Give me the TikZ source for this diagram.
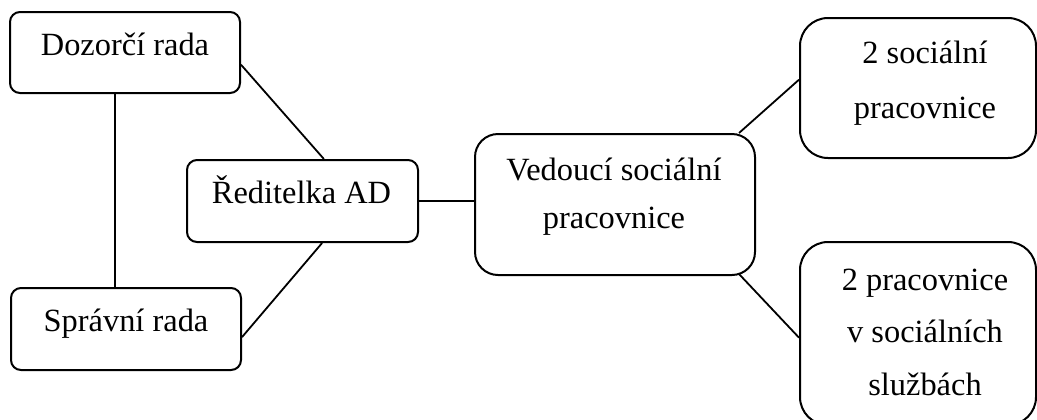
\documentclass[tikz,border=0pt]{standalone}
\usepackage{fontspec}
\setmainfont{Liberation Serif}
\usetikzlibrary{positioning}
\tikzstyle{orgbox} = [draw, line width=1pt, rounded corners=5pt, inner sep=0pt]
\tikzstyle{orgtext} = [font=\fontsize{16.2}{27.5}\selectfont, align=center, anchor=base, inner sep=0pt]
\tikzstyle{link} = [line width=0.9pt]

\begin{document}
\begin{tikzpicture}[x=0.5pt,y=-0.5pt]
\useasboundingbox (0,0) rectangle (1037,419);
\clip (0,0) rectangle (1037,419);
\fill[white] (0,0) rectangle (1037,419);

% boxes
\node[orgbox, minimum width=115pt, minimum height=40.5pt] (dozorci) at (125,52.5) {};
\node[orgbox, minimum width=115pt, minimum height=41pt] (spravni) at (126,329) {};
\node[orgbox, minimum width=115.5pt, minimum height=41pt] (reditelka) at (302.5,201) {};
\node[orgbox, rounded corners=11.5pt, minimum width=140pt, minimum height=70.5pt] (vedouci) at (615,204.5) {};
\node[orgbox, rounded corners=14pt, minimum width=118pt, minimum height=70pt] (socialni) at (918,88) {};
\node[orgbox, rounded corners=14pt, minimum width=118pt, minimum height=91.5pt] (sluzby) at (918,333.5) {};

% texts (base = last line)
\node[orgtext] (tdozorci) at (125,55) {Dozorčí rada};
\node[orgtext] (tspravni) at (126,331) {Správní rada};
\node[orgtext] (treditelka) at (301.5,203) {Ředitelka AD};
\node[orgtext, font=\fontsize{16.2}{24}\selectfont] (tvedouci) at (614,228) {Vedoucí sociální\\pracovnice};
\node[orgtext] (tsocialni) at (925,118) {2 sociální\\pracovnice};
\node[orgtext, font=\fontsize{16.2}{26.25}\selectfont] (tsluzby) at (925,395) {2 pracovnice\\v sociálních\\službách};

% connectors
\draw[link] (dozorci.-104) -- (dozorci.-104 |- spravni.north);
\draw[link] (dozorci.-6) -- (reditelka.63);
\draw[link] (spravni.-4) -- (reditelka.-65);
\draw[link] (reditelka.east) -- (reditelka.east -| vedouci.west);
\draw[link] (vedouci.north east) ++(-17,0) -- (socialni.176);
\draw[link] (vedouci.south east) ++(-17,-2) -- (sluzby.182);
\end{tikzpicture}
\end{document}
